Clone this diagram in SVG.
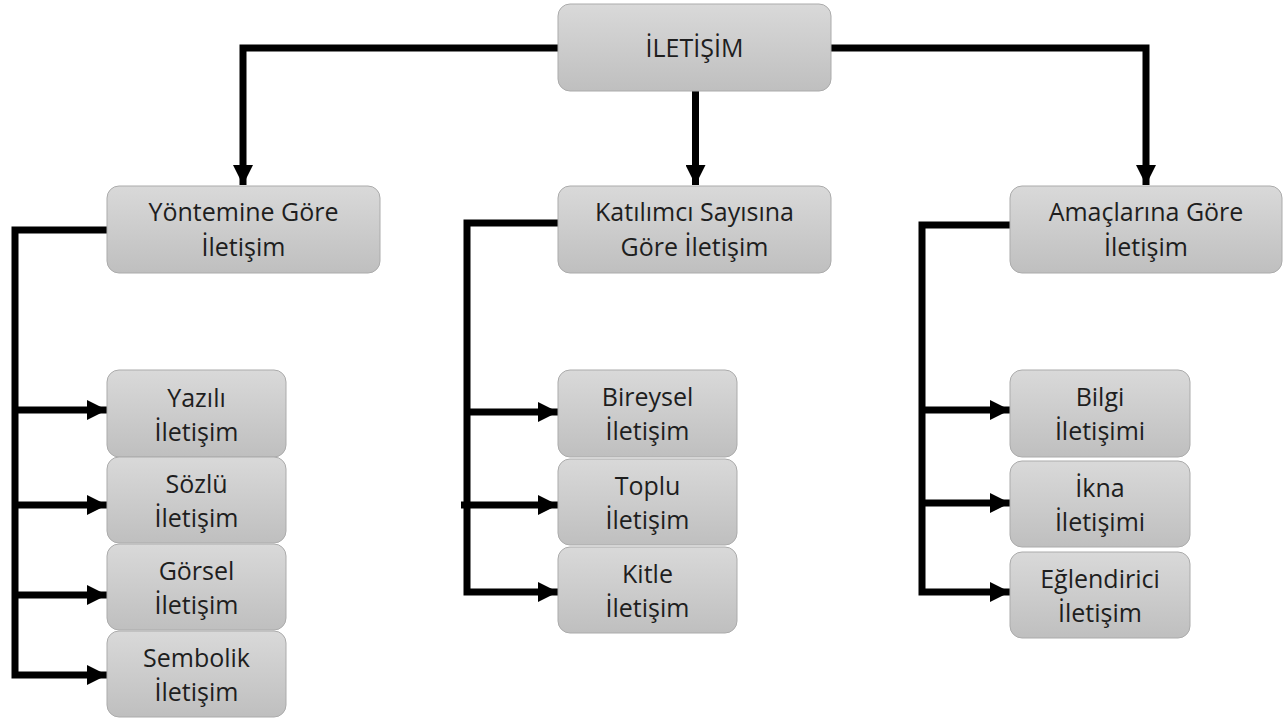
<svg xmlns="http://www.w3.org/2000/svg" width="1287" height="718" viewBox="0 0 1287 718">
<defs>
<linearGradient id="g" x1="0" y1="0" x2="0" y2="1">
<stop offset="0" stop-color="#d9d9d9"/>
<stop offset="1" stop-color="#bfbfbf"/>
</linearGradient>
<marker id="ah" viewBox="0 0 20 20" refX="20" refY="10" markerWidth="20" markerHeight="20" markerUnits="userSpaceOnUse" orient="auto">
<path d="M0,0 L20,10 L0,20 Z" fill="#000"/>
</marker>
<style>
.box{fill:url(#g);stroke:#ababab;stroke-width:1}
.t{font-family:"Open Sans","Liberation Sans",sans-serif;font-size:25px;fill:#1e1e1e;text-anchor:middle}
.c{fill:none;stroke:#000;stroke-width:7;stroke-linejoin:miter}
.a{marker-end:url(#ah)}
</style>
</defs>
<rect width="1287" height="718" fill="#fff"/>
<g id="connectors">
<path class="c a" d="M558,48 H243 V185"/>
<path class="c a" d="M695.5,91 V185"/>
<path class="c a" d="M831,48 H1146 V185"/>
<path class="c a" d="M107,230 H15 V675 H107"/>
<path class="c a" d="M15,410 H107"/>
<path class="c a" d="M15,505 H107"/>
<path class="c a" d="M15,595 H107"/>
<path class="c a" d="M558,223 H467 V592 H558"/>
<path class="c a" d="M467,412 H558"/>
<path class="c a" d="M461,505 H558"/>
<path class="c a" d="M1010,225 H922 V592 H1010"/>
<path class="c a" d="M922,410 H1010"/>
<path class="c a" d="M922,503 H1010"/>
</g>
<g id="n-root"><rect class="box" x="558" y="4" width="273" height="87" rx="12"/><text class="t" x="694.5" y="57">İLETİŞİM</text></g>
<g id="n-yontem"><rect class="box" x="107" y="186" width="273" height="87" rx="12"/><text class="t" x="243.5" y="221">Yöntemine Göre</text><text class="t" x="243.5" y="256">İletişim</text></g>
<g id="n-katilimci"><rect class="box" x="558" y="186" width="273" height="87" rx="12"/><text class="t" x="694.5" y="221">Katılımcı Sayısına</text><text class="t" x="694.5" y="256">Göre İletişim</text></g>
<g id="n-amac"><rect class="box" x="1010" y="186" width="272" height="87" rx="12"/><text class="t" x="1146" y="221">Amaçlarına Göre</text><text class="t" x="1146" y="256">İletişim</text></g>
<g id="n-yazili"><rect class="box" x="107" y="370" width="179" height="87" rx="12"/><text class="t" x="196.5" y="407">Yazılı</text><text class="t" x="196.5" y="441">İletişim</text></g>
<g id="n-sozlu"><rect class="box" x="107" y="457" width="179" height="86" rx="12"/><text class="t" x="196.5" y="493">Sözlü</text><text class="t" x="196.5" y="527">İletişim</text></g>
<g id="n-gorsel"><rect class="box" x="107" y="544" width="179" height="86" rx="12"/><text class="t" x="196.5" y="580">Görsel</text><text class="t" x="196.5" y="614">İletişim</text></g>
<g id="n-sembolik"><rect class="box" x="107" y="631" width="179" height="86" rx="12"/><text class="t" x="196.5" y="667">Sembolik</text><text class="t" x="196.5" y="701">İletişim</text></g>
<g id="n-bireysel"><rect class="box" x="558" y="370" width="179" height="87" rx="12"/><text class="t" x="647.5" y="406">Bireysel</text><text class="t" x="647.5" y="440">İletişim</text></g>
<g id="n-toplu"><rect class="box" x="558" y="459" width="179" height="86" rx="12"/><text class="t" x="647.5" y="495">Toplu</text><text class="t" x="647.5" y="529">İletişim</text></g>
<g id="n-kitle"><rect class="box" x="558" y="547" width="179" height="86" rx="12"/><text class="t" x="647.5" y="583">Kitle</text><text class="t" x="647.5" y="617">İletişim</text></g>
<g id="n-bilgi"><rect class="box" x="1010" y="370" width="180" height="87" rx="12"/><text class="t" x="1100" y="406">Bilgi</text><text class="t" x="1100" y="440">İletişimi</text></g>
<g id="n-ikna"><rect class="box" x="1010" y="461" width="180" height="86" rx="12"/><text class="t" x="1100" y="497">İkna</text><text class="t" x="1100" y="531">İletişimi</text></g>
<g id="n-eglendirici"><rect class="box" x="1010" y="552" width="180" height="86" rx="12"/><text class="t" x="1100" y="588">Eğlendirici</text><text class="t" x="1100" y="622">İletişim</text></g>
</svg>
